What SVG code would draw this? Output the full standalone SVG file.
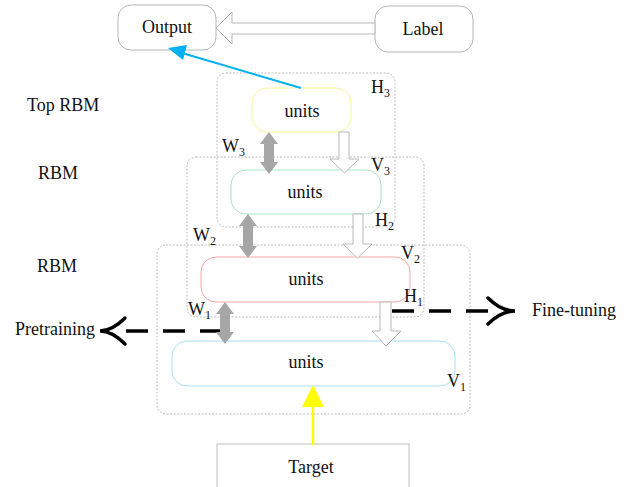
<svg xmlns="http://www.w3.org/2000/svg" width="632" height="487" viewBox="0 0 632 487">
<style>
text{font-family:"Liberation Serif","Times New Roman",serif;font-size:18px;fill:#111}
.c{text-anchor:middle}
.sub{font-size:12px}
.dot{fill:none;stroke:#bdbdbd;stroke-width:1;stroke-dasharray:2 1.5}
.box{fill:#fff;stroke:#b5b5b5;stroke-width:1}
.hollow{fill:#fff;stroke:#b8b8b8;stroke-width:1}
.dbl{fill:#a6a6a6;stroke:none}
.dash{fill:none;stroke:#000;stroke-width:3.5;stroke-dasharray:22 15}
.chev{fill:none;stroke:#000;stroke-width:3.5;stroke-linecap:round}
</style>
<rect width="632" height="487" fill="#fff"/>
<g id="layers">
<rect class="dot" x="217" y="73" width="178" height="154" rx="9"/>
<rect class="dot" x="187" y="157" width="237" height="160" rx="9"/>
<rect class="dot" x="157" y="245" width="313" height="169" rx="9"/>
</g>
<g id="output"><rect class="box" x="118" y="5" width="98" height="45" rx="13"/><text class="c" x="167" y="33">Output</text></g>
<g id="label"><rect class="box" x="375" y="6" width="98" height="46" rx="13"/><text class="c" x="423" y="35">Label</text></g>
<g id="units-top"><rect x="252" y="88" width="99" height="44" rx="15" fill="#fff" stroke="#f5f59a"/><text class="c" x="302" y="117">units</text></g>
<g id="units-v3"><rect x="231" y="170" width="150" height="44" rx="15" fill="#fff" stroke="#a8e4c4"/><text class="c" x="305" y="198">units</text></g>
<g id="units-v2"><rect x="201" y="257" width="209" height="45" rx="15" fill="#fff" stroke="#f4a6a6"/><text class="c" x="306" y="285">units</text></g>
<g id="units-v1"><rect x="172" y="341" width="283" height="45" rx="15" fill="#fff" stroke="#a6e0f4"/><text class="c" x="306" y="368">units</text></g>
<g id="target"><rect x="217" y="444" width="192" height="60" fill="#fff" stroke="#c0c0c0"/><text class="c" x="311" y="473">Target</text></g>
<g id="side-labels">
<text x="27" y="111">Top RBM</text>
<text x="38" y="179">RBM</text>
<text x="37" y="272">RBM</text>
<text x="15" y="335">Pretraining</text>
<text x="532" y="316">Fine-tuning</text>
</g>
<g id="layer-labels">
<text x="371" y="93">H<tspan class="sub" dy="4">3</tspan></text>
<text x="371" y="171">V<tspan class="sub" dy="4">3</tspan></text>
<text x="375" y="226">H<tspan class="sub" dy="4">2</tspan></text>
<text x="222" y="152">W<tspan class="sub" dy="4">3</tspan></text>
<text x="193" y="241">W<tspan class="sub" dy="4">2</tspan></text>
<text x="401" y="259">V<tspan class="sub" dy="4">2</tspan></text>
<text x="404" y="302">H<tspan class="sub" dy="4">1</tspan></text>
<text x="188" y="315">W<tspan class="sub" dy="4">1</tspan></text>
<text x="447" y="387">V<tspan class="sub" dy="4">1</tspan></text>
</g>
<g id="connectors">
<polygon class="hollow" points="375,23 232,23 232,12 216,28 232,44 232,34 375,34"/>
<line x1="301" y1="88" x2="182" y2="53" stroke="#00b0f0" stroke-width="2"/>
<polygon points="168,48 187,45 183,60" fill="#00b0f0"/>
<polygon class="hollow" points="339,132 349,132 349,159 359,159 344.5,173 330,159 339,159"/>
<polygon class="hollow" points="353,214 363,214 363,244 372,244 357.5,258 343,244 353,244"/>
<polygon class="hollow" points="380,302 391,302 391,331 401,331 386,346 372,331 380,331"/>
<path class="dash" d="M222,331 H125"/>
<path class="chev" d="M125,318 Q112,331 100,331 Q112,331 125,344"/>
<path class="dash" d="M392,311 H490"/>
<path class="chev" d="M488,298 Q501,311 515,311 Q501,311 488,324"/>
<path class="dbl" d="M269,132 L278,144 L274,144 L274,162 L278,162 L269,174 L260,162 L264,162 L264,144 L260,144 Z"/>
<path class="dbl" d="M248,214 L257,226 L253,226 L253,246 L257,246 L248,258 L239,246 L243,246 L243,226 L239,226 Z"/>
<path class="dbl" d="M225,302 L234,314 L230,314 L230,332 L234,332 L225,344 L216,332 L220,332 L220,314 L216,314 Z"/>
<line x1="313" y1="445" x2="313" y2="405" stroke="#ffff00" stroke-width="2.5"/>
<polygon points="313,385 324,407 302,407" fill="#ffff00"/>
</g>
</svg>
